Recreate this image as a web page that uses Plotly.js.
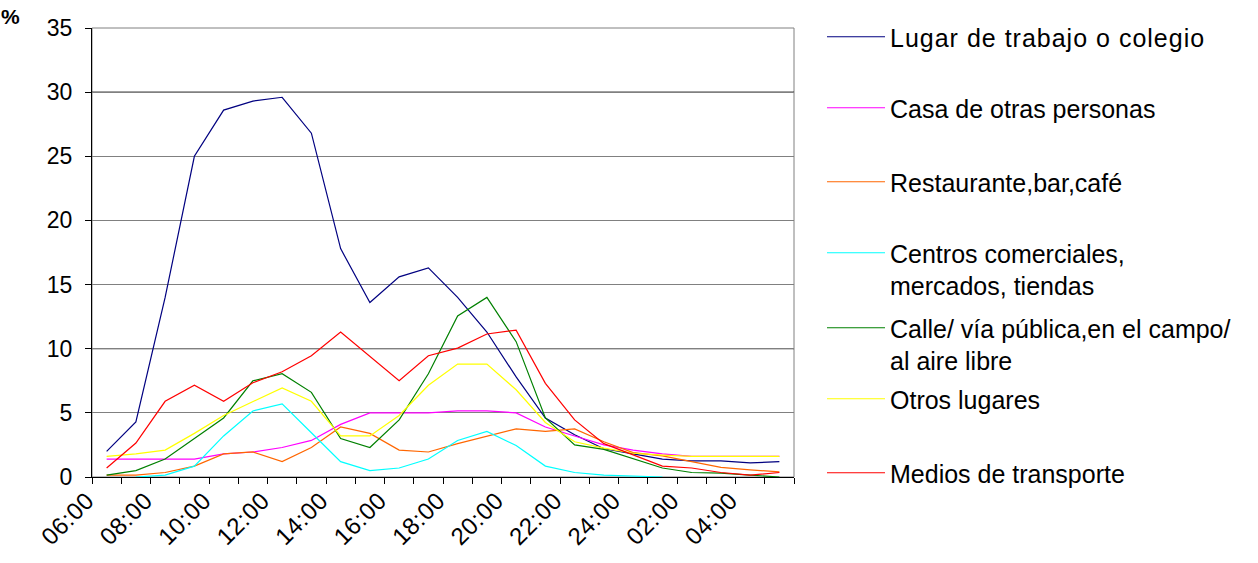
<!DOCTYPE html>
<html>
<head>
<meta charset="utf-8">
<script src="https://cdn.plot.ly/plotly-3.0.1.min.js"></script>
<style>
  body { margin: 0; background: #ffffff; }
  .legendtext { letter-spacing: 1px; }
  .xtick text { letter-spacing: 0.5px; }
</style>
</head>
<body>
<div id="chart" style="width:1258px;height:563px;"></div>
<script>
// Hour of day, starting at 06:00 and running through the night to 05:00
const hours = ['06:00','07:00','08:00','09:00','10:00','11:00','12:00','13:00','14:00','15:00',
               '16:00','17:00','18:00','19:00','20:00','21:00','22:00','23:00','24:00',
               '01:00','02:00','03:00','04:00','05:00'];

// Percentage of people at each place, per hour
const lugarTrabajo   = [2.0, 4.3, 14.0, 25.0, 28.6, 29.3, 29.6, 26.8, 17.8, 13.6, 15.6, 16.3,
                        14.0, 11.3, 7.8, 4.6, 3.3, 2.2, 1.8, 1.4, 1.25, 1.25, 1.1, 1.2];
const casaOtras      = [1.4, 1.4, 1.4, 1.4, 1.8, 1.95, 2.3, 2.85, 4.1, 5.0, 5.0, 5.0,
                        5.15, 5.15, 5.0, 3.9, 3.2, 2.5, 2.1, 1.8, 1.6, 1.6, 1.6, 1.6];
const restaurante    = [0.15, 0.15, 0.35, 0.85, 1.8, 1.95, 1.2, 2.3, 3.9, 3.4, 2.1, 1.95,
                        2.6, 3.2, 3.75, 3.55, 3.75, 2.75, 1.9, 1.65, 1.2, 0.75, 0.55, 0.4];
const centrosComerc  = [null, 0.0, 0.15, 0.85, 3.2, 5.15, 5.7, 3.45, 1.2, 0.5, 0.7, 1.4,
                        2.85, 3.55, 2.45, 0.85, 0.35, 0.15, 0.1, 0.0, null, null, null, null];
const calleAireLibre = [0.15, 0.5, 1.4, 3.0, 4.6, 7.5, 8.05, 6.6, 3.0, 2.3, 4.45, 8.05,
                        12.55, 14.0, 10.55, 4.6, 2.5, 2.15, 1.4, 0.7, 0.35, 0.3, 0.15, 0.0];
const otrosLugares   = [1.6, 1.8, 2.1, 3.4, 4.8, 5.9, 6.95, 5.9, 3.2, 3.2, 4.8, 7.15,
                        8.8, 8.8, 6.8, 4.25, 2.75, 2.25, 1.85, 1.7, 1.6, 1.6, 1.6, 1.6];
const mediosTransp   = [0.7, 2.65, 5.9, 7.15, 5.9, 7.35, 8.2, 9.45, 11.3, 9.4, 7.5, 9.45,
                        10.05, 11.15, 11.45, 7.3, 4.45, 2.6, 1.75, 0.85, 0.7, 0.35, 0.15, 0.35];

const seriesNames = ['Lugar de trabajo o colegio', 'Casa de otras personas', 'Restaurante,bar,café',
                     'Centros comerciales,<br>mercados, tiendas',
                     'Calle/ vía pública,en el campo/<br>al aire libre',
                     'Otros lugares', 'Medios de transporte'];
const seriesValues = [lugarTrabajo, casaOtras, restaurante, centrosComerc, calleAireLibre, otrosLugares, mediosTransp];
const seriesColors = ['#000080', '#ff00ff', '#ff6600', '#00ffff', '#008000', '#ffff00', '#ff0000'];

const xIdx = hours.map((h, i) => i);
const legendIds = ['legend', 'legend2', 'legend3', 'legend4', 'legend5', 'legend6', 'legend7'];

const traces = seriesValues.map((vals, k) => ({
  type: 'scatter',
  mode: 'lines',
  x: xIdx,
  y: vals,
  name: seriesNames[k],
  legend: legendIds[k],
  line: { color: seriesColors[k], width: 1.2 },
  connectgaps: false,
  hoverinfo: 'skip'
}));

// Tick marks sit on category boundaries; every other boundary carries an hour label
const tickPos = [];
const tickLabels = [];
for (let k = 0; k <= hours.length; k++) {
  tickPos.push(k - 0.5);
  tickLabels.push(k % 2 === 0 && k < hours.length ? hours[k] : '');
}

const FONT = 'Liberation Sans, Arial, sans-serif';

// Plot area in pixels (used to place the legend column and the unit label)
const plotLeft = 92, plotRight = 794, plotTop = 28, plotBottom = 477;
const pxToPaperX = px => (px - plotLeft) / (plotRight - plotLeft);
const pxToPaperY = py => (plotBottom - py) / (plotBottom - plotTop);

// Legend rows: symbol centre heights
const legendRowY = [37, 108, 182, 253, 328, 399, 473];
const layout = {
  width: 1258,
  height: 563,
  paper_bgcolor: '#ffffff',
  plot_bgcolor: '#ffffff',
  margin: { l: plotLeft, r: 1258 - plotRight, t: plotTop, b: 563 - plotBottom },
  showlegend: true,
  xaxis: {
    type: 'linear',
    range: [-0.5, hours.length - 0.5],
    tickmode: 'array',
    tickvals: tickPos,
    ticktext: tickLabels,
    tickangle: -45,
    ticks: 'outside',
    ticklen: 6,
    tickcolor: '#000000',
    ticklabelstandoff: -7,
    ticklabelshift: -5,
    showline: true,
    linecolor: '#000000',
    linewidth: 1,
    showgrid: false,
    zeroline: false,
    tickfont: { family: FONT, size: 24, color: '#000000' }
  },
  yaxis: {
    range: [0, 35],
    tickmode: 'linear',
    tick0: 0,
    dtick: 5,
    ticks: 'outside',
    ticklen: 6,
    tickcolor: '#000000',
    ticklabelstandoff: 8,
    showline: true,
    linecolor: '#000000',
    linewidth: 1,
    showgrid: true,
    gridcolor: '#808080',
    gridwidth: 1,
    zeroline: false,
    tickfont: { family: FONT, size: 23, color: '#000000' }
  },
  shapes: [
    { type: 'rect', xref: 'paper', yref: 'paper', x0: 0, x1: 1, y0: 0, y1: 1,
      line: { color: '#808080', width: 1 }, layer: 'below' },
    { type: 'line', xref: 'paper', yref: 'y', x0: 0, x1: 1, y0: 10, y1: 10,
      line: { color: '#000000', width: 1 }, layer: 'between' },
    { type: 'line', xref: 'paper', yref: 'y', x0: 0, x1: 1, y0: 30, y1: 30,
      line: { color: '#000000', width: 1 }, layer: 'between' }
  ],
  annotations: [
    { text: '%', xref: 'paper', yref: 'paper', x: pxToPaperX(-1), y: pxToPaperY(17),
      xanchor: 'left', yanchor: 'middle', showarrow: false,
      font: { family: FONT, size: 21, color: '#000000', weight: 'bold' } }
  ]
};

legendIds.forEach((id, k) => {
  layout[id] = {
    x: pxToPaperX(822),
    y: pxToPaperY(legendRowY[k] - 23),
    xanchor: 'left',
    yanchor: 'top',
    valign: 'top',
    bgcolor: 'rgba(0,0,0,0)',
    borderwidth: 0,
    itemwidth: 58,
    font: { family: FONT, size: 25, color: '#000000' }
  };
});

Plotly.newPlot('chart', traces, layout, { displayModeBar: false, staticPlot: true });
</script>
</body>
</html>
